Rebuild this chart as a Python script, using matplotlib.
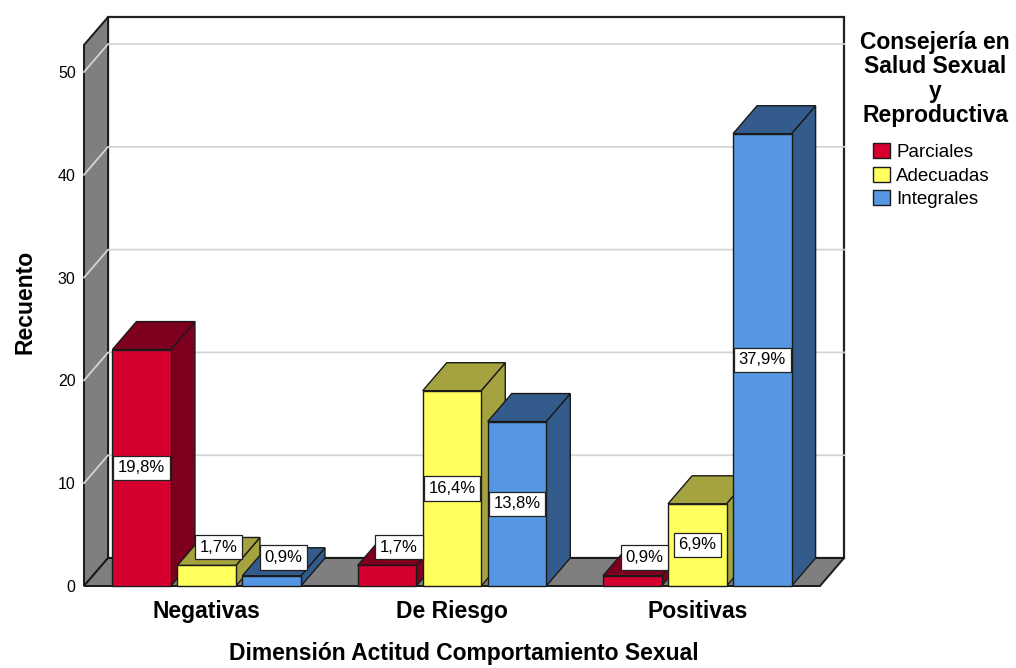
import matplotlib
matplotlib.use('Agg')
import matplotlib.pyplot as plt
from matplotlib.patches import Polygon, Patch

plt.rcParams['font.family'] = ['Liberation Sans', 'DejaVu Sans']

# datos: recuentos por dimensión y nivel de consejería
categorias = ['Negativas', 'De Riesgo', 'Positivas']
grupos = ['Parciales', 'Adecuadas', 'Integrales']
parciales = [23, 2, 1]
adecuadas = [2, 19, 8]
integrales = [1, 16, 44]
porcentajes = {
    'Parciales': ['19,8%', '1,7%', '0,9%'],
    'Adecuadas': ['1,7%', '16,4%', '6,9%'],
    'Integrales': ['0,9%', '13,8%', '37,9%'],
}
yticks = [0, 10, 20, 30, 40, 50]

series = [parciales, adecuadas, integrales]
c_frente = ['#D60030', '#FFFF5E', '#5597E2']
c_oscuro = ['#7E001E', '#A4A33F', '#335B8C']
gris = '#7F7F7F'
borde = '#1a1a1a'

# profundidad oblicua en unidades de datos
dx = 0.098
dy = 2.72
ymax = 52.63
ancho = 0.2385
paso = 0.265

fig = plt.figure(figsize=(10.16, 6.68), dpi=100)
ax = fig.add_axes([84/1016, 82/668, 760/1016, 569/668])
ax.set_xlim(-0.5, 2.5 + dx)
ax.set_ylim(0, ymax + dy)
for s in ax.spines.values():
    s.set_visible(False)

x0, x1 = -0.5, 2.5

def poly(pts, fc, ec=borde, lw=1.0, z=1):
    ax.add_patch(Polygon(pts, closed=True, facecolor=fc, edgecolor=ec,
                         linewidth=lw, zorder=z, clip_on=False))

# pared del fondo
poly([(x0+dx, dy), (x1+dx, dy), (x1+dx, ymax+dy), (x0+dx, ymax+dy)],
     'white', ec='#222222', lw=1.6, z=1)
# pared lateral izquierda
poly([(x0, 0), (x0+dx, dy), (x0+dx, ymax+dy), (x0, ymax)], gris, lw=1.4, z=1.1)
# lineas de cuadricula
for v in yticks[1:]:
    ax.plot([x0, x0+dx, x1+dx], [v, v+dy, v+dy], color='#d4d4d4', lw=1.3,
            zorder=1.2, clip_on=False)
# suelo
poly([(x0, 0), (x1, 0), (x1+dx, dy), (x0+dx, dy)], gris, lw=1.4, z=1.3)

# barras 3D
z = 2
for i in range(len(categorias)):
    for j, vals in enumerate(series):
        h = vals[i]
        c = i + (j - 1) * paso
        a = c - ancho / 2
        b = c + ancho / 2
        poly([(b, 0), (b+dx, dy), (b+dx, h+dy), (b, h)], c_oscuro[j], z=z)
        poly([(a, h), (b, h), (b+dx, h+dy), (a+dx, h+dy)], c_oscuro[j], z=z)
        poly([(a, 0), (b, 0), (b, h), (a, h)], c_frente[j], z=z)
        z += 0.01

# etiquetas de porcentaje
for i in range(len(categorias)):
    for j, g in enumerate(grupos):
        h = series[j][i]
        c = i + (j - 1) * paso
        if h >= 4:
            tx, ty = c, h / 2
        else:
            tx, ty = c + dx * 0.5, h + dy * 0.65
        ax.text(tx, ty, porcentajes[g][i], ha='center', va='center',
                fontsize=12, zorder=10,
                bbox=dict(boxstyle='square,pad=0.28', fc='white', ec='#222222', lw=0.9))

ax.set_yticks(yticks)
ax.set_yticklabels([str(v) for v in yticks], fontsize=11.5)
ax.set_xticks(range(len(categorias)))
ax.set_xticklabels(categorias, fontsize=16.5, fontweight='bold')
ax.tick_params(axis='both', length=0)
ax.tick_params(axis='y', pad=6)
ax.tick_params(axis='x', pad=10)
ax.set_xlabel('Dimensión Actitud Comportamiento Sexual', fontsize=16.5,
              fontweight='bold', labelpad=14)
ax.set_ylabel('Recuento', fontsize=16.5, fontweight='bold', labelpad=15)

# leyenda
fig.text(935/1016, 1 - 31/668, 'Consejería en\nSalud Sexual\ny\nReproductiva',
         ha='center', va='top', fontsize=16.5, fontweight='bold', linespacing=1.07)
manejadores = [Patch(facecolor=c_frente[j], edgecolor=borde, label=g)
               for j, g in enumerate(grupos)]
fig.legend(handles=manejadores, loc='upper left', bbox_to_anchor=(873/1016, 1 - 143/668),
           frameon=False, borderpad=0, borderaxespad=0, fontsize=13.5,
           handlelength=0.9, handleheight=0.85, handletextpad=0.33, labelspacing=0.3)

fig.savefig('out.png', dpi=100)
